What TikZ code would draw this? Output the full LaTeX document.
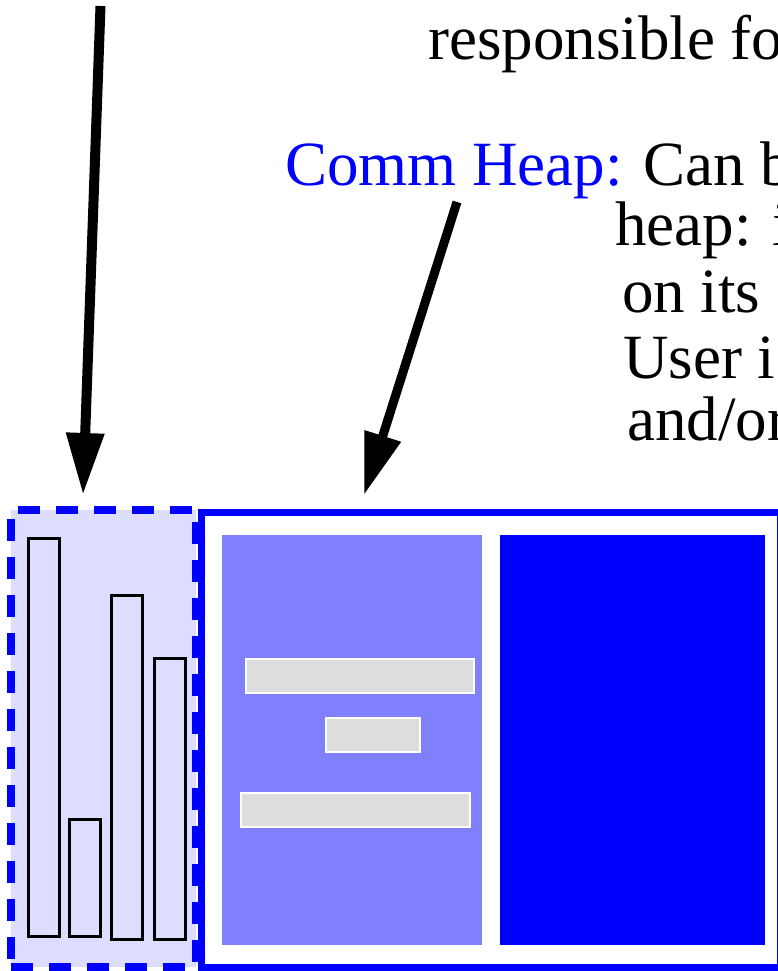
\documentclass[tikz,border=0pt]{standalone}
\usepackage{fontspec}
\setmainfont{Liberation Serif}
\usetikzlibrary{arrows.meta}
\definecolor{stackfill}{HTML}{DDDDFF}
\definecolor{heaplight}{HTML}{8080FF}
\definecolor{heapdark}{HTML}{0000FF}
\definecolor{barfill}{HTML}{DDDDDD}
\tikzset{
  note/.style={anchor=base west, inner sep=0pt, font=\fontsize{63}{64}\selectfont},
  box/.style={anchor=north west, inner sep=0pt, outer sep=0pt},
  stackbar/.style={box, draw=black, line width=3pt, fill=stackfill},
  greybar/.style={box, draw=white, line width=2.5pt, fill=barfill},
  pointer/.style={line width=10pt, -{Triangle[length=62pt,width=36pt]}}
}
\begin{document}
\begin{tikzpicture}[x=1pt, y=-1pt]
      \useasboundingbox (0,0) rectangle (778,971);
      \node (resp) [note] at (428,60) {responsible fo};
      \node (commlabel) [note, text=blue] at (285,185) {Comm Heap:};
      \node (commtext) [note] at (643,185) {Can b};
      \node (line2) [note] at (615,245) {heap: i};
      \node (line3) [note] at (622,312) {on its};
      \node (line4) [note] at (623,378) {User i};
      \node (line5) [note] at (627,440) {and/or};
      \node (heapframe) [box, draw=blue, line width=7pt, fill=white,
        minimum width=579pt, minimum height=455pt] at (201,512) {};
      \node (stack) [box, draw=blue, line width=8pt, fill=stackfill,
        dash pattern=on 22pt off 16pt,
        minimum width=185pt, minimum height=457pt] at (11,510) {};
      \draw[blue, line width=7pt] (heapframe.north west) -- (heapframe.south west);
      \node (barA) [stackbar, minimum width=31pt, minimum height=398pt] at (28.5,538.5) {};
      \node (barB) [stackbar, minimum width=31pt, minimum height=117pt] at (69.5,819.5) {};
      \node (barC) [stackbar, minimum width=31pt, minimum height=344pt] at (111.5,595.5) {};
      \node (barD) [stackbar, minimum width=31pt, minimum height=281pt] at (154.5,658.5) {};
      \node (commpanel) [box, fill=heaplight, minimum width=260pt, minimum height=410pt] at (222,535) {};
      \node (userpanel) [box, fill=heapdark, minimum width=265pt, minimum height=410pt] at (500,535) {};
      \node (block1) [greybar, minimum width=228pt, minimum height=34pt] at (246,659) {};
      \node (block2) [greybar, minimum width=94pt, minimum height=34pt] at (326,718) {};
      \node (block3) [greybar, minimum width=229pt, minimum height=34pt] at (241,793) {};
      \coordinate (stacktail) at (100.5,6);
      \coordinate (stacktip) at (83,495);
      \coordinate (commtail) at (457,202);
      \coordinate (commtip) at (364,495);
      \draw[pointer] (stacktail) -- (stacktip);
      \draw[pointer, line width=9pt] (commtail) -- (commtip);
    \end{tikzpicture}
\end{document}
